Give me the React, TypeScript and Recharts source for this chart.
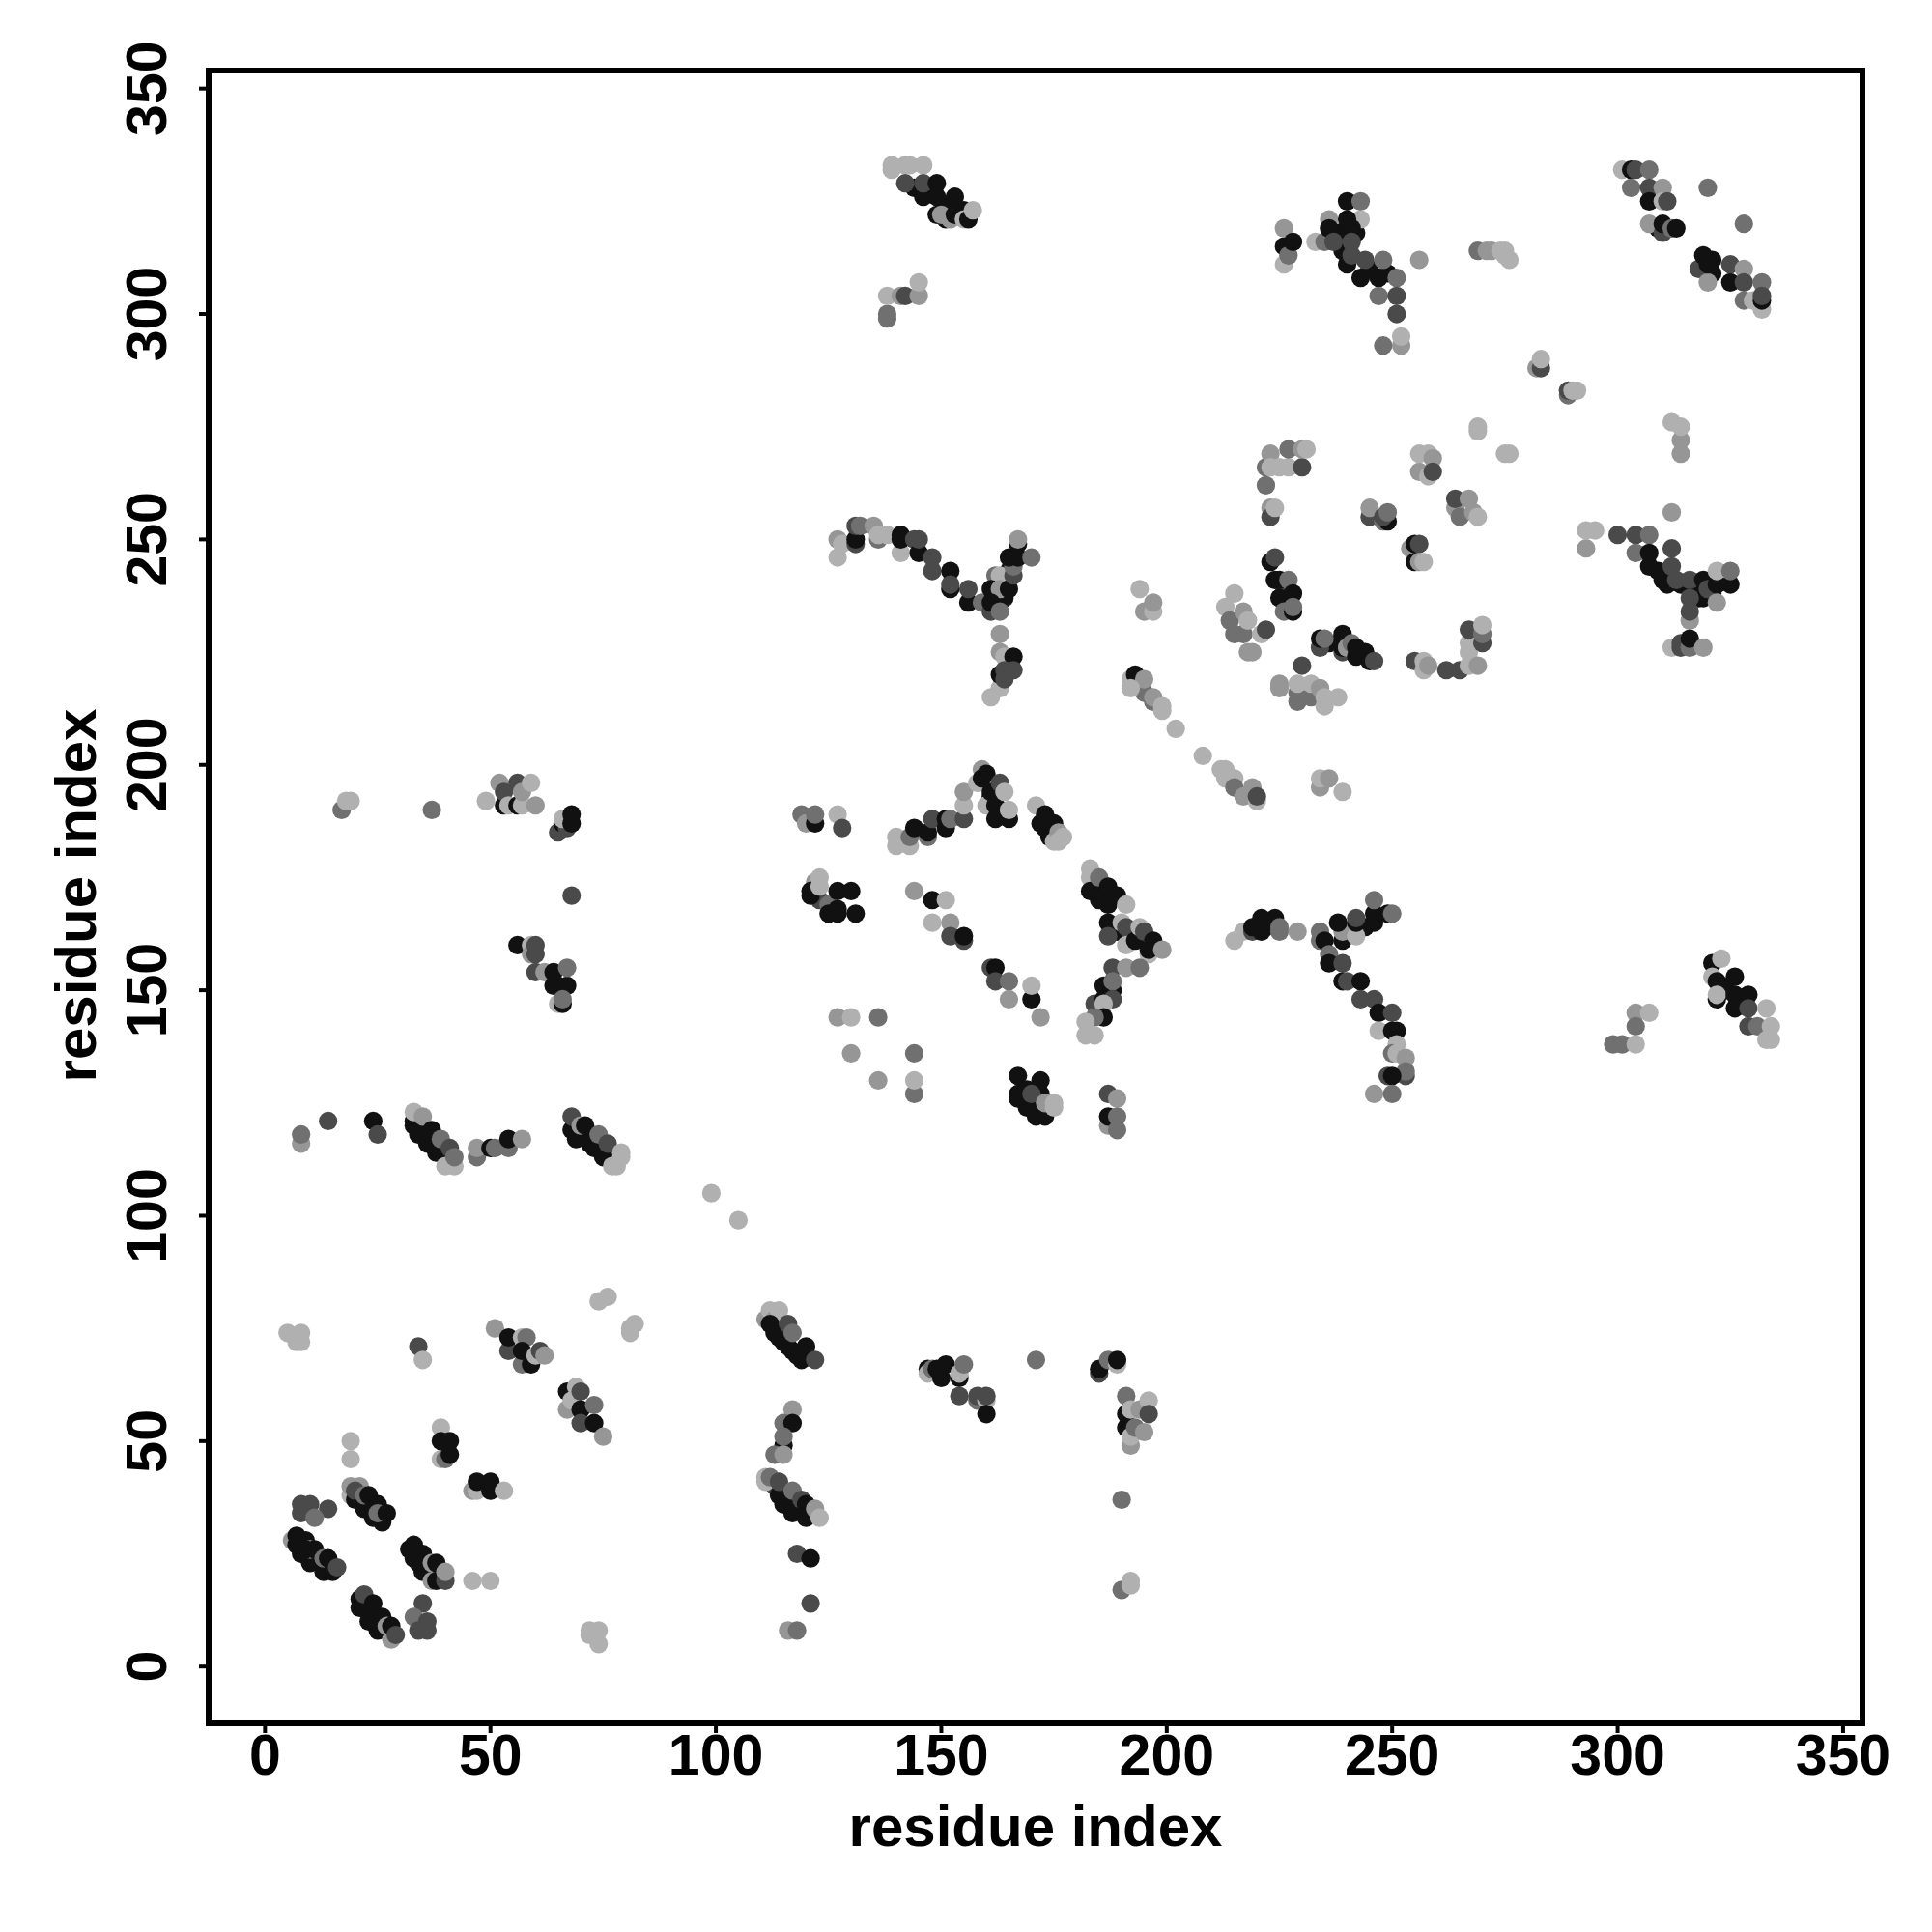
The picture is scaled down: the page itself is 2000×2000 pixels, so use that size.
import React from "react";
import { ScatterChart, Scatter, XAxis, YAxis, ReferenceArea, Label } from "recharts";

type Contact = [number, number, number];

// [residue i, residue j, contact score 1 (weak) .. 5 (strong)]
const lowerLeft: Contact[] = [
  [21, 38, 5], [23, 36, 5], [25, 33, 5], [34, 25, 5], [36, 23, 5], [36, 21, 5], [22, 14, 5], [24, 12, 5], [25, 10, 5], [27, 8, 5], [8, 27, 5], [10, 25, 5], [12, 23, 5],
  [5, 74, 1], [8, 74, 1], [7, 72, 1], [8, 72, 1], [34, 71, 4], [35, 68, 1],
  [51, 75, 2], [54, 70, 4], [54, 73, 5], [57, 73, 1], [58, 73, 3], [57, 67, 3], [57, 70, 5], [59, 67, 5], [60, 69, 1], [61, 70, 4], [62, 69, 2],
  [74, 81, 1], [76, 82, 1], [81, 74, 1], [81, 75, 1], [82, 76, 1],
  [67, 61, 5], [69, 62, 1], [67, 57, 2], [68, 59, 1], [70, 61, 4], [70, 57, 5], [70, 54, 4], [73, 54, 5], [73, 58, 3], [75, 51, 2],
  [39, 53, 1], [39, 46, 1], [40, 46, 3], [39, 50, 5], [41, 50, 5], [41, 47, 5],
  [19, 50, 1], [19, 46, 1],
  [46, 39, 2], [47, 39, 1], [47, 41, 5], [50, 39, 5], [50, 41, 5], [53, 39, 1],
  [19, 38, 1], [19, 40, 2], [20, 37, 5], [21, 40, 2], [20, 39, 4], [22, 35, 5], [22, 38, 3], [23, 38, 5], [24, 33, 5], [24, 35, 5], [25, 36, 5], [26, 32, 5], [25, 34, 3], [27, 34, 5],
  [8, 36, 4], [10, 36, 4], [8, 34, 4], [14, 35, 4], [11, 33, 3],
  [6, 28, 2], [7, 27, 5], [7, 29, 5], [8, 25, 5], [9, 28, 5], [10, 23, 5], [10, 26, 1], [9, 26, 5], [11, 26, 5], [13, 21, 5], [13, 24, 3], [14, 24, 5], [15, 21, 5], [16, 22, 4],
  [32, 26, 5], [33, 24, 5], [33, 27, 5], [35, 21, 5], [35, 25, 5], [34, 23, 5], [37, 19, 2], [37, 23, 2], [38, 23, 5], [38, 19, 5], [40, 19, 4], [40, 21, 2],
  [46, 19, 1], [50, 19, 1],
  [35, 14, 4], [33, 11, 3], [34, 8, 4], [36, 8, 4], [36, 10, 4],
  [21, 13, 5], [21, 15, 5], [22, 16, 4], [23, 10, 5], [23, 12, 5], [24, 14, 5], [25, 8, 5], [26, 11, 5], [27, 9, 2], [28, 6, 2], [28, 9, 5], [29, 7, 4],
  [72, 7, 1], [72, 8, 1], [74, 8, 1], [74, 5, 1],
];

const lowerMiddle: Contact[] = [
  [114, 73, 5], [116, 71, 5], [118, 69, 5], [120, 69, 5], [113, 40, 4], [115, 38, 5], [117, 36, 5], [119, 35, 5],
  [111, 77, 2], [112, 79, 1], [113, 77, 2], [114, 79, 1], [112, 76, 5], [113, 74, 5], [115, 72, 5], [116, 76, 4], [117, 70, 5], [117, 74, 3], [119, 68, 5], [120, 71, 5], [122, 68, 4],
  [117, 57, 2], [115, 54, 3], [117, 54, 5], [115, 49, 5], [115, 51, 3], [113, 47, 3], [115, 47, 2],
  [111, 41, 1], [111, 42, 1], [112, 42, 3], [114, 38, 5], [114, 41, 4], [115, 36, 5], [117, 34, 5], [117, 39, 3], [119, 37, 4], [120, 33, 5], [120, 36, 5], [122, 35, 2], [123, 33, 1],
  [118, 25, 4], [121, 24, 5], [121, 14, 4], [116, 8, 2], [118, 8, 3],
  [147, 66, 5], [147, 65, 1], [148, 66, 3], [150, 64, 5], [151, 67, 5], [149, 66, 5], [154, 64, 5], [154, 65, 1], [155, 67, 3], [154, 60, 4], [158, 59, 3], [158, 60, 4], [160, 59, 1], [160, 60, 4], [160, 56, 5],
  [171, 68, 3],
  [185, 65, 4], [185, 66, 5], [187, 68, 3], [189, 67, 1], [189, 68, 5],
  [191, 60, 3], [191, 56, 5], [191, 53, 5], [192, 57, 1], [192, 49, 2], [192, 51, 1], [194, 57, 2], [193, 53, 3], [196, 59, 1], [196, 56, 4], [195, 52, 2],
  [190, 37, 3], [190, 17, 3], [192, 19, 1], [192, 18, 1],
];

const centerLeft: Contact[] = [
  [35, 119, 5], [37, 116, 5], [39, 114, 5], [70, 118, 5], [72, 116, 5], [74, 115, 5], [76, 113, 5],
  [17, 190, 3], [18, 192, 1], [19, 192, 1], [37, 190, 3],
  [49, 192, 1], [53, 191, 5], [52, 196, 2], [53, 194, 4], [54, 191, 1], [56, 191, 5], [56, 196, 4], [57, 191, 1], [57, 194, 2], [59, 196, 1], [60, 191, 2],
  [65, 185, 4], [66, 187, 5], [67, 186, 4], [66, 188, 1], [68, 187, 5], [68, 189, 5],
  [68, 171, 4],
  [56, 160, 5], [59, 160, 1], [59, 158, 2], [60, 158, 4], [60, 160, 4], [60, 154, 4], [62, 154, 2], [64, 154, 5], [64, 151, 5], [65, 147, 1], [65, 151, 5], [66, 147, 5], [67, 151, 5], [66, 148, 3], [67, 155, 3],
  [8, 116, 2], [8, 118, 3], [14, 121, 4], [24, 121, 5], [25, 118, 4],
  [33, 120, 5], [33, 121, 5], [33, 123, 1], [34, 118, 5], [35, 122, 2], [36, 116, 5], [37, 119, 5], [38, 114, 5], [39, 117, 3], [40, 111, 1], [41, 115, 4], [42, 111, 1], [42, 113, 3],
  [47, 113, 3], [47, 115, 2], [50, 115, 5], [51, 115, 3], [54, 115, 3], [54, 117, 5], [57, 117, 2],
  [68, 119, 5], [68, 122, 4], [69, 117, 5], [70, 120, 2], [71, 120, 5], [73, 115, 5], [74, 118, 3], [75, 113, 5], [76, 116, 4], [77, 111, 1], [78, 111, 1], [79, 113, 1], [79, 114, 1],
  [99, 105, 1], [105, 99, 1],
];

const centerMiddle: Contact[] = [
  [122, 172, 5], [123, 170, 4], [126, 168, 5], [161, 193, 5], [163, 190, 5], [173, 186, 5], [185, 172, 5], [189, 163, 5], [192, 161, 5], [169, 124, 5], [171, 125, 5],
  [119, 189, 3], [120, 187, 2], [122, 187, 5], [122, 189, 3], [127, 189, 1], [128, 186, 4],
  [122, 174, 2], [123, 175, 1], [121, 171, 5], [121, 172, 5], [123, 173, 1], [125, 169, 3], [125, 167, 5], [127, 172, 5], [127, 167, 5], [127, 168, 5], [130, 172, 5], [131, 167, 5],
  [127, 144, 2], [130, 144, 1], [136, 144, 3], [130, 136, 2], [144, 136, 3], [136, 130, 2], [144, 127, 3], [144, 130, 1],
  [144, 172, 2], [148, 170, 5], [151, 170, 1], [148, 165, 1], [152, 165, 2], [152, 162, 4], [155, 161, 4], [155, 162, 5],
  [161, 155, 4], [162, 155, 5], [162, 152, 4], [165, 152, 3], [170, 148, 5], [170, 151, 1], [165, 148, 2], [172, 144, 2],
  [140, 182, 1], [143, 182, 1], [140, 184, 1], [143, 184, 3], [147, 184, 3], [144, 186, 5], [147, 185, 5], [148, 188, 4], [151, 186, 5], [151, 188, 5], [152, 188, 3], [155, 188, 4], [155, 191, 1], [155, 194, 2],
  [159, 199, 2], [158, 196, 1], [159, 197, 5], [160, 198, 5], [160, 191, 1], [161, 194, 5], [162, 191, 5], [162, 188, 5], [165, 188, 5], [163, 196, 4], [164, 194, 1], [165, 190, 1],
  [171, 191, 1], [172, 187, 5], [173, 189, 5], [174, 184, 5], [175, 187, 5], [175, 183, 1], [176, 185, 2], [176, 183, 1], [177, 184, 1],
  [183, 177, 1], [183, 175, 1], [183, 172, 5], [185, 170, 5], [185, 175, 3], [187, 169, 5], [187, 173, 5], [189, 171, 5], [191, 169, 1],
  [187, 165, 5], [187, 162, 4], [190, 165, 1], [191, 164, 4], [191, 160, 1], [193, 161, 5], [194, 164, 1], [195, 163, 4], [196, 158, 1], [196, 159, 5], [197, 161, 5], [199, 159, 2],
  [188, 155, 4], [191, 155, 2], [194, 155, 3], [186, 151, 5], [188, 150, 5], [188, 152, 3], [184, 147, 4], [186, 148, 5], [188, 148, 4], [186, 147, 1], [186, 144, 5], [184, 144, 3], [182, 143, 1], [182, 140, 1], [184, 140, 1],
  [167, 131, 5], [172, 130, 5], [167, 127, 5], [167, 126, 5], [169, 128, 5], [172, 127, 5], [170, 127, 4], [171, 122, 5], [173, 122, 5], [173, 125, 2], [175, 124, 1], [175, 125, 1],
  [187, 127, 4], [189, 126, 2], [187, 120, 2], [187, 122, 5], [189, 122, 3], [189, 119, 3],
];

const centerRight: Contact[] = [
  [323, 151, 5], [324, 150, 5], [328, 147, 5], [244, 164, 5], [240, 163, 5], [222, 164, 5],
  [215, 161, 1], [217, 163, 1], [219, 163, 4], [219, 164, 5], [221, 163, 5], [221, 166, 5], [224, 166, 5], [225, 163, 3], [225, 164, 3], [229, 163, 2],
  [234, 161, 3], [234, 163, 3], [235, 161, 5], [236, 158, 3], [236, 156, 5], [239, 161, 5], [239, 163, 2], [238, 165, 5], [242, 162, 1], [242, 165, 5], [242, 166, 4], [246, 165, 5], [246, 167, 5], [246, 170, 3], [249, 167, 5], [250, 167, 3],
  [239, 156, 4], [239, 152, 5], [240, 152, 4], [243, 152, 5], [243, 148, 4], [246, 148, 4], [247, 145, 5], [250, 145, 4], [247, 141, 1], [250, 141, 5], [251, 141, 5], [251, 138, 1], [250, 136, 3], [251, 136, 1], [253, 135, 2],
  [253, 131, 4], [253, 132, 3], [249, 131, 4], [250, 131, 5], [246, 127, 2], [250, 127, 3],
  [304, 145, 2], [307, 145, 1], [304, 142, 3], [299, 138, 3], [301, 138, 3], [304, 138, 1],
  [321, 156, 5], [321, 153, 1], [322, 152, 5], [323, 157, 1], [322, 148, 5], [322, 149, 1], [326, 153, 5], [326, 149, 5], [329, 149, 5], [326, 146, 5], [329, 146, 4], [329, 142, 4], [331, 142, 3], [333, 146, 1], [334, 142, 1], [333, 139, 1], [334, 139, 1],
];

const upperMiddle: Contact[] = [
  [226, 238, 5], [226, 240, 4], [164, 240, 5], [164, 237, 5], [165, 243, 5], [236, 227, 5], [244, 225, 5],
  [127, 250, 2], [128, 249, 1], [127, 246, 1], [131, 249, 4], [131, 250, 5], [131, 253, 4], [132, 253, 3], [135, 253, 2], [136, 250, 3], [136, 251, 1], [138, 251, 1],
  [141, 247, 1], [141, 250, 5], [141, 251, 5], [144, 250, 4], [145, 247, 5], [145, 250, 4], [148, 246, 4], [148, 243, 4], [152, 243, 5], [152, 239, 5], [152, 240, 4], [156, 236, 5], [156, 239, 4], [159, 236, 3],
  [162, 242, 3], [163, 242, 1], [161, 239, 5], [163, 239, 2], [161, 234, 4], [161, 236, 5], [163, 234, 3], [165, 239, 5], [166, 242, 4], [166, 244, 3], [165, 246, 5], [167, 246, 5], [167, 249, 5], [167, 250, 2], [170, 246, 3],
  [163, 229, 2], [163, 225, 2], [164, 224, 1], [166, 224, 5], [161, 215, 1], [163, 217, 1], [163, 220, 5], [164, 219, 4], [164, 221, 4], [166, 221, 4],
  [194, 239, 1], [195, 234, 2], [197, 234, 1], [197, 236, 2],
  [192, 219, 1], [193, 220, 5], [195, 216, 3], [195, 219, 2], [192, 217, 1], [197, 214, 3], [197, 215, 2], [199, 212, 1], [199, 213, 1], [202, 208, 1], [208, 202, 1],
  [212, 199, 1], [213, 199, 1], [213, 197, 1], [215, 197, 1], [215, 195, 3], [219, 195, 2], [217, 193, 2], [220, 192, 1], [220, 193, 4],
  [234, 195, 2], [234, 197, 1], [236, 197, 2], [239, 194, 1],
  [215, 238, 1], [213, 235, 1], [214, 232, 3], [215, 229, 3], [217, 234, 2], [217, 229, 3], [218, 232, 1], [221, 229, 1], [222, 230, 4], [218, 225, 2], [219, 225, 2],
  [223, 245, 5], [224, 246, 4], [224, 241, 5], [225, 241, 5], [227, 241, 3], [225, 237, 5], [228, 238, 5], [226, 234, 3], [228, 234, 5], [228, 235, 3],
  [223, 257, 2], [223, 255, 4], [224, 257, 1],
  [222, 262, 3], [222, 266, 3], [223, 269, 2], [223, 266, 1], [225, 266, 1], [227, 266, 1], [227, 270, 3], [230, 266, 4], [230, 270, 2], [231, 270, 1],
  [245, 255, 4], [245, 257, 2], [248, 254, 3], [249, 254, 5], [248, 255, 4], [249, 256, 3],
  [254, 248, 2], [255, 249, 5], [256, 249, 4], [255, 245, 5], [256, 245, 2], [257, 245, 1],
  [256, 265, 2], [258, 264, 1], [256, 269, 1], [258, 269, 1], [259, 268, 2], [259, 265, 4],
  [264, 257, 2], [264, 259, 4], [267, 259, 2], [265, 255, 3], [268, 256, 2], [269, 255, 1],
  [269, 274, 1], [269, 275, 1], [275, 269, 1], [276, 269, 1],
  [234, 226, 4], [234, 228, 5], [235, 228, 3], [239, 225, 4], [239, 226, 5], [239, 229, 5], [240, 226, 2], [241, 227, 3], [242, 224, 5], [242, 226, 5], [245, 223, 5], [246, 223, 4],
  [255, 223, 4], [257, 221, 1], [257, 223, 1], [258, 222, 2],
  [262, 221, 4], [265, 221, 4], [267, 222, 1], [267, 225, 1], [267, 227, 1], [267, 230, 4], [269, 222, 2], [270, 227, 4], [270, 229, 3], [270, 231, 1],
  [230, 222, 4], [225, 217, 2], [225, 218, 2], [229, 214, 3], [229, 216, 3], [229, 218, 1], [232, 215, 3], [232, 218, 1], [234, 217, 2], [235, 213, 1], [235, 215, 1], [238, 215, 1],
];

const upperRight: Contact[] = [
  [309, 243, 5], [310, 241, 5], [314, 240, 5], [317, 239, 5], [321, 238, 5], [318, 237, 5], [309, 319, 5], [321, 312, 5], [321, 309, 5],
  [301, 332, 1], [303, 332, 5], [304, 332, 4], [307, 332, 3], [303, 328, 3], [307, 328, 4], [310, 328, 2], [307, 325, 5], [310, 325, 1], [311, 325, 4],
  [307, 320, 2], [310, 318, 4], [310, 320, 5], [312, 319, 3], [313, 319, 5], [320, 328, 3], [328, 320, 3],
  [318, 310, 4], [319, 313, 5], [320, 307, 2], [320, 311, 5], [325, 307, 5], [325, 311, 4], [328, 310, 2], [328, 307, 4], [332, 307, 3], [328, 303, 3], [330, 303, 1], [332, 301, 1], [332, 303, 5], [332, 304, 4],
  [282, 288, 2], [283, 288, 4], [283, 290, 1], [289, 282, 3], [289, 283, 4], [290, 283, 1], [291, 283, 1],
  [275, 313, 1], [276, 312, 1],
  [312, 276, 1], [314, 269, 2], [314, 272, 2], [314, 275, 1], [312, 256, 2],
  [293, 248, 2], [293, 252, 1], [295, 252, 1],
  [300, 251, 4], [304, 251, 4], [304, 247, 3], [307, 251, 3], [307, 244, 5], [307, 247, 5], [311, 240, 5], [312, 244, 4], [312, 248, 4], [313, 241, 4], [316, 241, 4],
  [319, 241, 5], [319, 237, 5], [320, 239, 4], [322, 240, 5], [322, 243, 1], [325, 240, 5], [325, 243, 3], [316, 232, 2], [316, 234, 4], [316, 237, 4], [322, 236, 2],
  [312, 226, 1], [314, 226, 4], [314, 227, 4], [316, 226, 3], [316, 228, 5], [319, 226, 2],
];

const upperLeft: Contact[] = [
  [144, 328, 5], [147, 327, 5], [151, 324, 5], [155, 323, 5], [151, 321, 5], [238, 318, 5], [242, 318, 5], [240, 316, 5], [239, 314, 5], [245, 310, 5], [249, 309, 5],
  [139, 332, 1], [139, 333, 1], [142, 333, 1], [142, 329, 4], [143, 333, 1], [146, 333, 1], [146, 326, 5], [146, 329, 4], [149, 329, 5], [149, 326, 5], [149, 322, 5], [150, 322, 2], [152, 321, 2], [153, 322, 5], [153, 326, 5], [155, 321, 1], [156, 321, 5], [157, 323, 1],
  [138, 299, 3], [138, 300, 3], [138, 304, 1], [141, 304, 2], [142, 304, 4], [145, 304, 2], [145, 307, 1],
  [226, 311, 1], [226, 315, 5], [226, 319, 2], [227, 313, 3], [228, 316, 5],
  [233, 316, 1], [235, 316, 3], [236, 321, 2], [236, 319, 5], [237, 316, 4], [240, 325, 5], [243, 325, 3], [243, 321, 1], [240, 321, 5], [241, 319, 5], [241, 316, 4], [240, 311, 5], [241, 313, 4],
  [244, 312, 4], [243, 308, 5], [247, 308, 5], [248, 312, 3], [251, 308, 3], [247, 304, 3], [251, 304, 4], [251, 300, 4], [248, 293, 3], [252, 293, 2], [252, 295, 1], [256, 312, 2],
  [269, 314, 3], [271, 314, 2], [272, 314, 2], [274, 314, 1], [275, 314, 1],
];

const contacts = [...lowerLeft, ...lowerMiddle, ...centerLeft, ...centerMiddle, ...centerRight, ...upperMiddle, ...upperRight, ...upperLeft].map(
  ([i, j, score]) => ({ i, j, score })
);

const axisTicks = [0, 50, 100, 150, 200, 250, 300, 350];
const axisTitle = "residue index";
const xDomain = [-12.5, 354.3];
const yDomain = [-12.6, 354];

const FONT = "'Liberation Sans', Arial, sans-serif";
const shades = ["", "#b0b0b0", "#969696", "#707070", "#4a4a4a", "#111111"];

const Dot = (props: any) => (
  <circle cx={props.cx} cy={props.cy} r={9.6} fill={shades[props.payload.score]} />
);

const XTick = ({ x, payload }: any) => (
  <text x={x} y={1837} textAnchor="middle" fontFamily={FONT} fontWeight="bold" fontSize={59} fill="#000">
    {payload.value}
  </text>
);

const YTick = ({ y, payload }: any) => (
  <text x={172} y={y} transform={`rotate(-90 172 ${y})`} textAnchor="middle" fontFamily={FONT} fontWeight="bold" fontSize={59} fill="#000">
    {payload.value}
  </text>
);

const labelStyle = { fontFamily: FONT, fontWeight: "bold", fontSize: 60, fill: "#000" };

// the y title sits centred on the plot, Label's insideLeft would anchor it at its start
const YTitle = () => (
  <text x={99} y={927} transform="rotate(-90 99 927)" textAnchor="middle" {...labelStyle}>
    {axisTitle}
  </text>
);

export default function App() {
  return (
    <div style={{ position: "absolute", left: 0, top: 0, width: 2000, height: 2000, background: "#fff" }}>
      <ScatterChart width={2000} height={2000} margin={{ top: 73, right: 72, bottom: 0, left: 0 }}>
        <XAxis
          type="number"
          dataKey="i"
          domain={xDomain}
          ticks={axisTicks}
          interval={0}
          allowDataOverflow
          height={216}
          tickSize={10}
          tick={<XTick />}
          tickLine={{ stroke: "#000", strokeWidth: 4 }}
          axisLine={{ stroke: "#000", strokeWidth: 6 }}
          label={{ value: axisTitle, position: "insideBottom", offset: 89, style: labelStyle }}
        />
        <YAxis
          type="number"
          dataKey="j"
          domain={yDomain}
          ticks={axisTicks}
          interval={0}
          allowDataOverflow
          width={216}
          tickSize={10}
          tick={<YTick />}
          tickLine={{ stroke: "#000", strokeWidth: 4 }}
          axisLine={{ stroke: "#000", strokeWidth: 6 }}
        >
          <Label content={<YTitle />} />
        </YAxis>
        <Scatter data={contacts} shape={<Dot />} isAnimationActive={false} />
        <ReferenceArea
          x1={xDomain[0]}
          x2={xDomain[1]}
          y1={yDomain[0]}
          y2={yDomain[1]}
          fill="none"
          stroke="#000"
          strokeWidth={6}
          ifOverflow="visible"
        />
      </ScatterChart>
    </div>
  );
}
